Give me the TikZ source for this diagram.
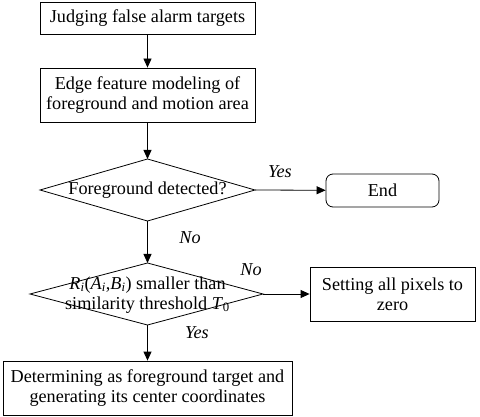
\documentclass[tikz,border=0pt]{standalone}
\usepackage{fontspec}
\setmainfont{Liberation Serif}
\usetikzlibrary{arrows.meta,shapes.geometric}
\newcommand{\sbs}[1]{\textsubscript{#1}}
\begin{document}
\begin{tikzpicture}[x=1pt,y=-1pt,
  every node/.style={font=\fontsize{18.2}{20}\selectfont},
  box/.style={draw,thick,rectangle,inner sep=0pt,align=center},
  term/.style={draw,thick,rectangle,rounded corners=7pt,inner sep=0pt,align=center},
  lbl/.style={font=\fontsize{18.2}{20}\selectfont\itshape},
  arr/.style={thick,-{Triangle[length=9pt,width=8pt]}},
  edge/.style={draw,thick}]
\useasboundingbox (0,0) rectangle (480,417);
\node[box,minimum width=215pt,minimum height=32pt] (b1) at (147.5,18) {Judging false alarm targets};
\node[box,minimum width=215pt,minimum height=54pt] (b2) at (147.5,95) {Edge feature modeling of\\foreground and motion area};
\coordinate (d1t) at (147.5,159);
\coordinate (d1b) at (147.5,221);
\coordinate (d1l) at (40,190);
\coordinate (d1r) at (255,190);
\draw[edge] (d1t) -- (d1r) -- (d1b) -- (d1l) -- cycle;
\node (d1) at (147.5,190) {Foreground detected?};
\node[term,minimum width=113pt,minimum height=33pt] (end) at (382.5,190.5) {End};
\coordinate (d2t) at (147.5,263);
\coordinate (d2b) at (147.5,325);
\coordinate (d2l) at (30,294);
\coordinate (d2r) at (263,294);
\draw[edge] (d2t) -- (d2r) -- (d2b) -- (d2l) -- cycle;
\node[align=center] (d2) at (147.5,295) {\textit{R}\sbs{\textit{i}}(\textit{A}\sbs{\textit{i}},\textit{B}\sbs{\textit{i}}) smaller than\\similarity threshold \textit{T}\sbs{0}};
\node[box,minimum width=165pt,minimum height=54pt] (zero) at (392.5,294) {Setting all pixels to\\zero};
\node[box,minimum width=289pt,minimum height=54pt] (fg) at (147.5,388) {Determining as foreground target and\\generating its center coordinates};
\draw[arr] (b1) -- (b2);
\draw[arr] (b2) -- (d1t);
\draw[arr] (d1r) -- (end);
\draw[arr] (d1b) -- (d2t);
\draw[arr] (d2r) -- (zero);
\draw[arr] (d2b) -- (fg);
\node[lbl] (yes1) at (280,172) {Yes};
\node[lbl] (no1) at (190,238) {No};
\node[lbl] (no2) at (251,270) {No};
\node[lbl] (yes2) at (197,333) {Yes};
\end{tikzpicture}
\end{document}
